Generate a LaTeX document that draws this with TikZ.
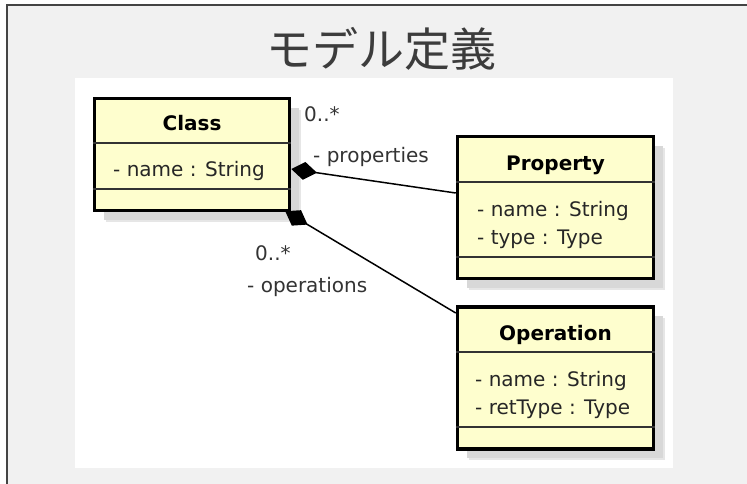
\documentclass[tikz,border=0pt]{standalone}
\usepackage{fontspec}
\setmainfont{DejaVu Sans}
\newfontfamily\cjkfont{Noto Sans CJK JP}
\usetikzlibrary{arrows.meta,calc,shadows}

\definecolor{frameline}{HTML}{444444}
\definecolor{framebg}{HTML}{F1F1F1}
\definecolor{classfill}{HTML}{FEFECE}
\definecolor{shadowcore}{HTML}{D8D8D8}
\definecolor{shadowrim}{HTML}{E6E6E6}
\definecolor{titlegray}{HTML}{3C3C3C}
\definecolor{labelgray}{HTML}{333333}

\begin{document}
\begin{tikzpicture}[x=1pt,y=-1pt,
  umlbox/.style={draw=black, line width=3.5pt, fill=classfill, inner sep=0pt,
    drop shadow={shadow xshift=11pt, shadow yshift=-11pt, fill=shadowrim, opacity=1},
    drop shadow={shadow xshift=9pt, shadow yshift=-9pt, fill=shadowcore, opacity=1}},
  sepline/.style={draw=black!80, line width=1.5pt},
  classname/.style={anchor=base, inner sep=0pt, font=\fontsize{20}{24}\selectfont\bfseries},
  attr/.style={anchor=base west, inner sep=0pt, font=\fontsize{20}{24}\selectfont, text=black!85},
  rolelabel/.style={anchor=base west, inner sep=0pt, font=\fontsize{20}{24}\selectfont, text=labelgray},
  comp/.style={draw=black, line width=1.5pt, {Diamond[length=26pt,width=18pt]}-},
]
\useasboundingbox (0,0) rectangle (747,483);
\clip (0,0) rectangle (747,483);

% frame and white drawing area
\fill[framebg] (7,5) rectangle (760,500);
\draw[frameline, line width=2pt] (760,5) -- (7,5) -- (7,500);
\fill[white] (75,78) rectangle (673,468);

% title
\node[anchor=base, inner sep=0pt, font=\cjkfont\fontsize{46}{52}\selectfont, text=titlegray]
  (title) at (381,66) {モデル定義};

% class boxes
\node[umlbox, minimum width=195pt, minimum height=112pt] (cls) at (192,154.5) {};
\node[umlbox, minimum width=196pt, minimum height=142pt] (prop) at (555.5,207.5) {};
\node[umlbox, minimum width=196pt, minimum height=142pt] (oper) at (555.5,378) {};

% compartment separators
\draw[sepline] (cls.west |- 0,143) -- (cls.east |- 0,143);
\draw[sepline] (cls.west |- 0,189) -- (cls.east |- 0,189);
\draw[sepline] (prop.west |- 0,182) -- (prop.east |- 0,182);
\draw[sepline] (prop.west |- 0,257) -- (prop.east |- 0,257);
\draw[sepline] (oper.west |- 0,352) -- (oper.east |- 0,352);
\draw[sepline] (oper.west |- 0,427) -- (oper.east |- 0,427);

% class names and attributes
\node[classname] (cls-name) at (192,130) {Class};
\node[attr] (cls-a1) at (113,176) {- name : String};

\node[classname] (prop-name) at (555.5,170) {Property};
\node[attr] (prop-a1) at (477,216.5) {- name : String};
\node[attr] (prop-a2) at (477,244) {- type : Type};

\node[classname] (oper-name) at (555.5,340) {Operation};
\node[attr] (oper-a1) at (475,386.5) {- name : String};
\node[attr] (oper-a2) at (475,414) {- retType : Type};

% composition connectors
\coordinate (cls-p) at ($(cls.east)+(0,14.5)$);
\coordinate (prop-in) at ($(prop.west)+(0,-14.5)$);
\coordinate (cls-o) at ($(cls.south east)+(-6,-1)$);
\coordinate (oper-in) at ($(oper.west)+(0,-65)$);
\draw[comp] (cls-p) -- (prop-in);
\draw[comp] (cls-o) -- (oper-in);

% role names and multiplicities
\node[rolelabel] (mult-p) at (304,121) {0..*};
\node[rolelabel] (role-p) at (313,162) {- properties};
\node[rolelabel] (mult-o) at (255,260) {0..*};
\node[rolelabel] (role-o) at (247,292) {- operations};
\end{tikzpicture}
\end{document}
